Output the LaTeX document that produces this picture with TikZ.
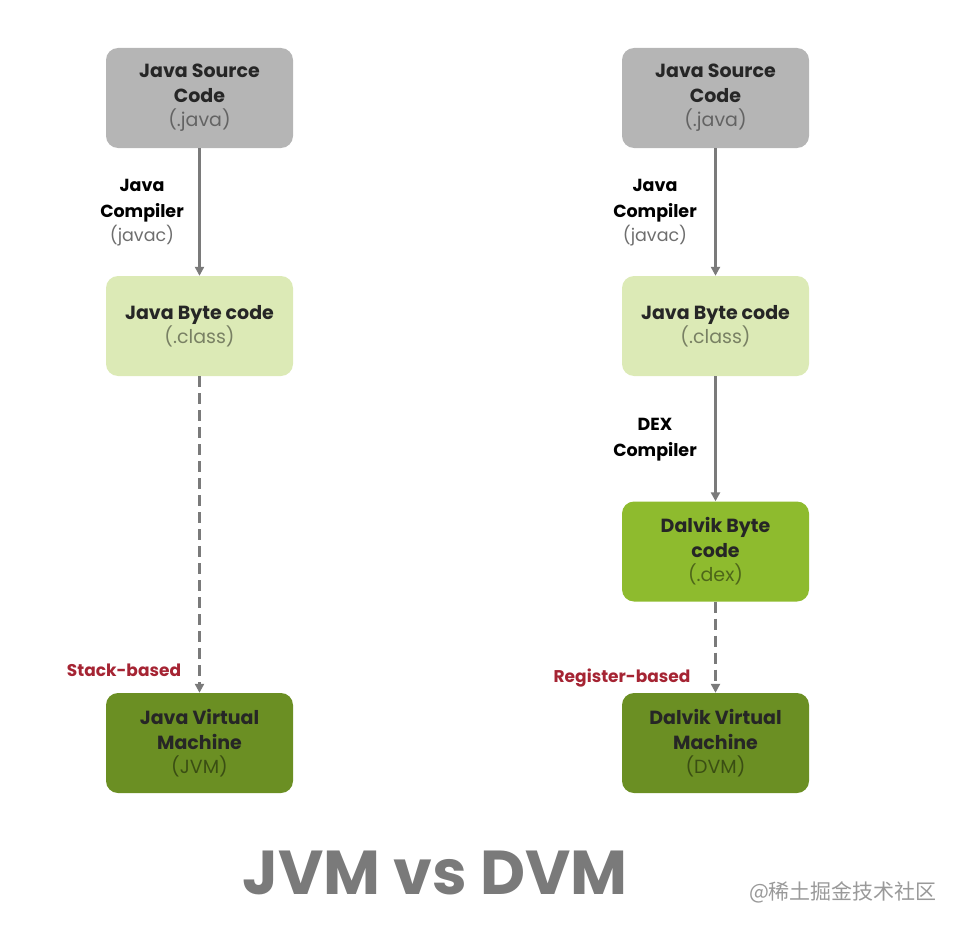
\documentclass[tikz,border=0pt]{standalone}
\usepackage{fontspec}
\setmainfont{Poppins}
\newfontfamily\cjk{Noto Sans CJK SC}
\usetikzlibrary{arrows.meta,positioning}
\definecolor{srcgray}{HTML}{B5B5B5}
\definecolor{bytegreen}{HTML}{DCEAB6}
\definecolor{dexgreen}{HTML}{8EBB2E}
\definecolor{vmgreen}{HTML}{6B8F23}
\definecolor{linegray}{HTML}{7A7A7A}
\definecolor{subgray}{HTML}{6E6E6E}
\definecolor{basedred}{HTML}{A52433}
\tikzset{>={Triangle[width=9pt,length=9pt]},
  stage/.style={rounded corners=12pt,minimum width=187pt,minimum height=100pt,
    align=center,font=\fontsize{19}{25}\selectfont\bfseries,text=black!85},
  flow/.style={->,draw=linegray,line width=3pt},
  weakflow/.style={flow,dash pattern=on 11pt off 6pt},
  steplabel/.style={align=center,font=\fontsize{17.5}{25.5}\selectfont\bfseries},
  basis/.style={font=\fontsize{17}{20}\selectfont\bfseries,text=basedred}}
\newcommand{\sub}[1]{\\[-1pt]{\mdseries\color{black}\pgfsetfillopacity{0.45}#1}}

\begin{document}
\begin{tikzpicture}[x=1pt,y=-1pt]
\useasboundingbox (0,0) rectangle (970,942);
% JVM column
\node[stage,fill=srcgray] (jsrc) at (199.5,98) {Java Source\\Code\sub{(.java)}};
\node[stage,fill=bytegreen] (jbyte) at (199.5,326) {Java Byte code\sub{(.class)}};
\node[stage,fill=vmgreen] (jvm) at (199.5,743) {Java Virtual\\Machine\sub{(JVM)}};
\draw[flow] (jsrc)--(jbyte);\draw[weakflow] (jbyte)--(jvm);
\node[steplabel] (javac) at (142,213) {Java\\Compiler\\[-1pt]{\mdseries\color{subgray}(javac)}};
\node[basis] (stack) at (124,670) {Stack-based};
% DVM column
\node[stage,fill=srcgray] (dsrc) at (715.5,98) {Java Source\\Code\sub{(.java)}};
\node[stage,fill=bytegreen] (dbyte) at (715.5,326) {Java Byte code\sub{(.class)}};
\node[stage,fill=dexgreen] (dex) at (715.5,551.5) {Dalvik Byte\\code\sub{(.dex)}};
\node[stage,fill=vmgreen] (dvm) at (715.5,743) {Dalvik Virtual\\Machine\sub{(DVM)}};
\draw[flow] (dsrc)--(dbyte);\draw[flow] (dbyte)--(dex);\draw[weakflow] (dex)--(dvm);
\node[steplabel] (dcomp) at (655,213) {Java\\Compiler\\[-1pt]{\mdseries\color{subgray}(javac)}};
\node[steplabel] (dexc) at (655,439.5) {DEX\\Compiler};
\node[basis] (register) at (622,678) {Register-based};
% title
\node[font=\fontsize{62}{62}\selectfont\bfseries,text=linegray] (title) at (435,873) {JVM vs DVM};
\node[font=\fontsize{21}{21}\selectfont\cjk,text=black!40] (mark) at (843,892) {@稀土掘金技术社区};
\end{tikzpicture}
\end{document}
